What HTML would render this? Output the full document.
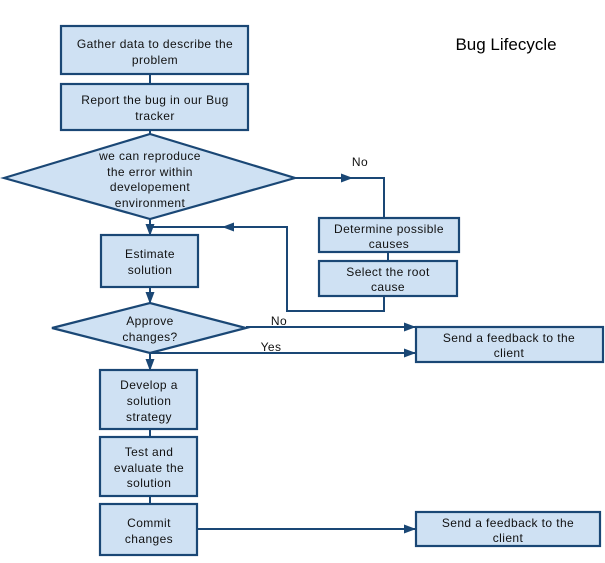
<!DOCTYPE html>
<html><head><style>
body{margin:0;background:#fff;}
svg{display:block;}
text{font-family:"Liberation Sans",sans-serif;font-size:12px;fill:#111;text-anchor:middle;letter-spacing:0.4px;}
</style></head><body>
<svg width="605" height="563" viewBox="0 0 605 563">
<defs><marker id="a" markerWidth="12" markerHeight="12" refX="11" refY="6" orient="auto" markerUnits="userSpaceOnUse"><path d="M0,1.5 L12,6 L0,10.5 z" fill="#1a4775"/></marker></defs>
<g fill="#cfe1f3" stroke="#1a4775" stroke-width="2.2">
<rect x="61" y="26" width="187" height="48"/>
<rect x="61" y="84" width="187" height="46"/>
<polygon points="4,178 150,134 295,178 150,219"/>
<rect x="101" y="235" width="97" height="52"/>
<rect x="319" y="218" width="140" height="34"/>
<rect x="319" y="261" width="138" height="35"/>
<polygon points="52,328 150,303 246,328 150,353"/>
<rect x="416" y="327" width="187" height="35"/>
<rect x="100" y="370" width="97" height="59"/>
<rect x="100" y="437" width="97" height="59"/>
<rect x="100" y="504" width="97" height="51"/>
<rect x="416" y="512" width="184" height="34"/>
</g>
<g fill="none" stroke="#1a4775" stroke-width="2">
<line x1="150" y1="74" x2="150" y2="84"/>
<line x1="150" y1="130" x2="150" y2="134"/>
<line x1="150" y1="219" x2="150" y2="235" marker-end="url(#a)"/>
<line x1="295" y1="178" x2="352" y2="178" marker-end="url(#a)"/>
<polyline points="345,178 384,178 384,218"/>
<line x1="388" y1="252" x2="388" y2="261"/>
<polyline points="384,296 384,311 287,311 287,227 228,227"/>
<line x1="287" y1="227" x2="223" y2="227" marker-end="url(#a)"/>
<line x1="228" y1="227" x2="150" y2="227"/>
<line x1="150" y1="287" x2="150" y2="303" marker-end="url(#a)"/>
<line x1="246" y1="327" x2="415" y2="327" marker-end="url(#a)"/>
<line x1="150" y1="353" x2="415" y2="353" marker-end="url(#a)"/>
<line x1="150" y1="353" x2="150" y2="370" marker-end="url(#a)"/>
<line x1="150" y1="429" x2="150" y2="437"/>
<line x1="150" y1="496" x2="150" y2="504"/>
<line x1="197" y1="529" x2="415" y2="529" marker-end="url(#a)"/>
</g>
<text x="155" y="48">Gather data to describe the</text>
<text x="155" y="64">problem</text>
<text x="155" y="104">Report the bug in our Bug</text>
<text x="155" y="120">tracker</text>
<text x="150" y="160">we can reproduce</text>
<text x="150" y="176">the error within</text>
<text x="150" y="191">developement</text>
<text x="150" y="207">environment</text>
<text x="360" y="166">No</text>
<text x="150" y="258">Estimate</text>
<text x="150" y="274">solution</text>
<text x="389" y="233">Determine possible</text>
<text x="389" y="248">causes</text>
<text x="388" y="276">Select the root</text>
<text x="388" y="291">cause</text>
<text x="150" y="325">Approve</text>
<text x="150" y="341">changes?</text>
<text x="279" y="325">No</text>
<text x="271" y="351">Yes</text>
<text x="509" y="342">Send a feedback to the</text>
<text x="509" y="357">client</text>
<text x="149" y="389">Develop a</text>
<text x="149" y="405">solution</text>
<text x="149" y="421">strategy</text>
<text x="149" y="456">Test and</text>
<text x="149" y="472">evaluate the</text>
<text x="149" y="487">solution</text>
<text x="149" y="527">Commit</text>
<text x="149" y="543">changes</text>
<text x="508" y="527">Send a feedback to the</text>
<text x="508" y="542">client</text>
<text x="506" y="50" style="font-size:17px;letter-spacing:0;fill:#000">Bug Lifecycle</text>
</svg>
</body></html>
